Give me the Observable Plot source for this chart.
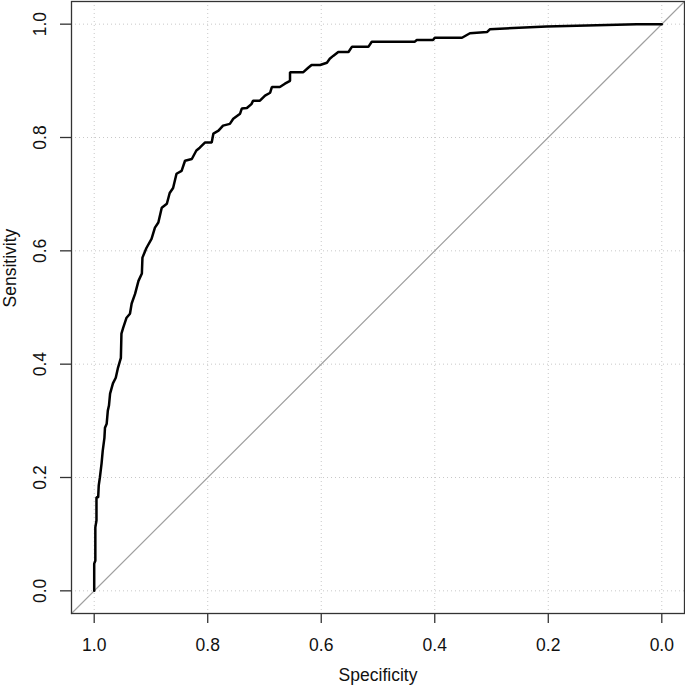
<!DOCTYPE html>
<html>
<head>
<meta charset="utf-8">
<script src="https://cdn.jsdelivr.net/npm/d3@7"></script>
<script src="https://cdn.jsdelivr.net/npm/@observablehq/plot@0.6"></script>
<style>
  html, body { margin: 0; padding: 0; background: #fff; }
  #chart svg { display: block; }
</style>
</head>
<body>
<div id="chart"></div>
<script>
// ROC curve: specificity (x, reversed) vs sensitivity (y)
const specificity = [
  1.000, 1.000, 0.998, 0.998, 0.996, 0.996, 0.993, 0.992, 0.990, 0.987,
  0.985, 0.982, 0.981, 0.978, 0.976, 0.974, 0.972, 0.967, 0.962, 0.958,
  0.953, 0.952, 0.949, 0.943, 0.937, 0.934, 0.928, 0.922, 0.916, 0.915,
  0.908, 0.899, 0.893, 0.887, 0.881, 0.872, 0.867, 0.861, 0.855, 0.846,
  0.840, 0.828, 0.820, 0.814, 0.805, 0.793, 0.790, 0.781, 0.773, 0.761,
  0.755, 0.743, 0.740, 0.731, 0.723, 0.720, 0.708, 0.699, 0.690, 0.687,
  0.673, 0.664, 0.655, 0.655, 0.632, 0.623, 0.617, 0.602, 0.590, 0.585,
  0.579, 0.570, 0.552, 0.546, 0.517, 0.511, 0.435, 0.432, 0.403, 0.400,
  0.352, 0.338, 0.308, 0.303, 0.203, 0.044, 0.000
];
const sensitivity = [
  0.000, 0.048, 0.053, 0.112, 0.124, 0.165, 0.165, 0.186, 0.200, 0.225,
  0.247, 0.270, 0.288, 0.295, 0.318, 0.327, 0.348, 0.366, 0.376, 0.394,
  0.411, 0.454, 0.464, 0.482, 0.489, 0.507, 0.524, 0.547, 0.560, 0.588,
  0.605, 0.621, 0.641, 0.650, 0.676, 0.683, 0.702, 0.711, 0.736, 0.741,
  0.759, 0.762, 0.777, 0.782, 0.791, 0.791, 0.807, 0.812, 0.821, 0.824,
  0.833, 0.842, 0.851, 0.852, 0.859, 0.865, 0.865, 0.874, 0.879, 0.889,
  0.889, 0.895, 0.900, 0.915, 0.915, 0.923, 0.928, 0.928, 0.932, 0.939,
  0.944, 0.951, 0.951, 0.960, 0.960, 0.969, 0.969, 0.972, 0.972, 0.976,
  0.976, 0.984, 0.986, 0.991, 0.996, 1.000, 1.000
];
const xTicks = [1.0, 0.8, 0.6, 0.4, 0.2, 0.0];
const yTicks = [0.0, 0.2, 0.4, 0.6, 0.8, 1.0];
const xLabel = "Specificity";
const yLabel = "Sensitivity";

const roc = specificity.map((s, i) => ({spec: s, sens: sensitivity[i]}));
const xDomain = [1.04, -0.04];
const yDomain = [-0.04, 1.04];
// chance line sens = 1 - spec across the whole plot region
const chance = xDomain.map(s => ({spec: s, sens: 1 - s}));

const font = "'Liberation Sans', Arial, Helvetica, sans-serif";
const fmt = d3.format(".1f");

const chart = Plot.plot({
  width: 685,
  height: 688,
  marginLeft: 71,
  marginRight: 1,
  marginTop: 1,
  marginBottom: 75,
  style: {fontFamily: font, fontSize: "17px", background: "#fff", color: "#111"},
  x: {domain: xDomain, label: null},
  y: {domain: yDomain, label: null},
  marks: [
    Plot.gridX(xTicks, {stroke: "#c8c8c8", strokeOpacity: 1, strokeDasharray: "1,3"}),
    Plot.gridY(yTicks, {stroke: "#c8c8c8", strokeOpacity: 1, strokeDasharray: "1,3"}),
    Plot.line(chance, {x: "spec", y: "sens", stroke: "#a0a0a0", strokeWidth: 1.2}),
    Plot.line(roc, {x: "spec", y: "sens", stroke: "#000", strokeWidth: 2.5, strokeLinejoin: "miter"}),
    Plot.frame({stroke: "#333", strokeWidth: 1.3}),
    Plot.axisX({ticks: xTicks, tickSize: 10, tickPadding: 15, tickFormat: fmt, label: null,
      stroke: "#333", strokeWidth: 1.3, fill: "#111", fontSize: 17.5}),
    Plot.axisY({ticks: yTicks, tickSize: 11, tickPadding: 20, tickRotate: -90, lineAnchor: "middle",
      tickFormat: fmt, label: null, stroke: "#333", strokeWidth: 1.3, fill: "#111", fontSize: 17.5}),
    Plot.text([xLabel], {frameAnchor: "bottom", dy: 67, text: d => d, fontSize: 17.5, fill: "#111"}),
    Plot.text([yLabel], {frameAnchor: "left", dx: -61, rotate: -90, text: d => d, fontSize: 17.5, fill: "#111"})
  ]
});
document.getElementById("chart").appendChild(chart);
</script>
</body>
</html>
